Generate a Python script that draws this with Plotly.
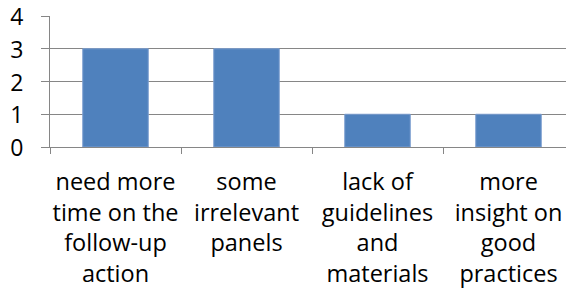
import plotly.graph_objects as go

categories = [
    "need more<br>time on the<br>follow-up<br>action",
    "some<br>irrelevant<br>panels",
    "lack of<br>guidelines<br>and<br>materials",
    "more<br>insight on<br>good<br>practices",
]
values = [3, 3, 1, 1]
y_ticks = [0, 1, 2, 3, 4]

fig = go.Figure(
    go.Bar(
        x=categories,
        y=values,
        marker=dict(color="#4F81BD", line=dict(color="#7C9FD0", width=1)),
        width=0.5,
    )
)

xfont = dict(family="Open Sans, Calibri, sans-serif", size=23.5, color="#000000")
yfont = dict(family="Open Sans, Calibri, sans-serif", size=23, color="#000000")

fig.update_layout(
    width=566,
    height=287,
    margin=dict(l=42, r=0, t=8, b=148),
    paper_bgcolor="white",
    plot_bgcolor="white",
    showlegend=False,
    font=xfont,
    bargap=0.5,
)
fig.update_xaxes(
    type="category",
    automargin=False,
    tickangle=0,
    showline=True,
    linecolor="#868686",
    linewidth=1,
    ticks="outside",
    tickson="boundaries",
    ticklen=6,
    tickcolor="#868686",
    showgrid=False,
    tickfont=xfont,
    ticklabelstandoff=14,
    ticklabeloverflow="allow",
)
fig.update_yaxes(
    automargin=False,
    range=[0, 4],
    tickvals=y_ticks,
    showline=True,
    linecolor="#868686",
    linewidth=1,
    ticks="outside",
    ticklen=8,
    tickcolor="#868686",
    showgrid=True,
    gridcolor="#868686",
    gridwidth=1,
    zeroline=False,
    tickfont=yfont,
    ticklabelstandoff=13,
    ticklabelshift=1,
    ticklabeloverflow="allow",
)

fig.write_html("out.html")
